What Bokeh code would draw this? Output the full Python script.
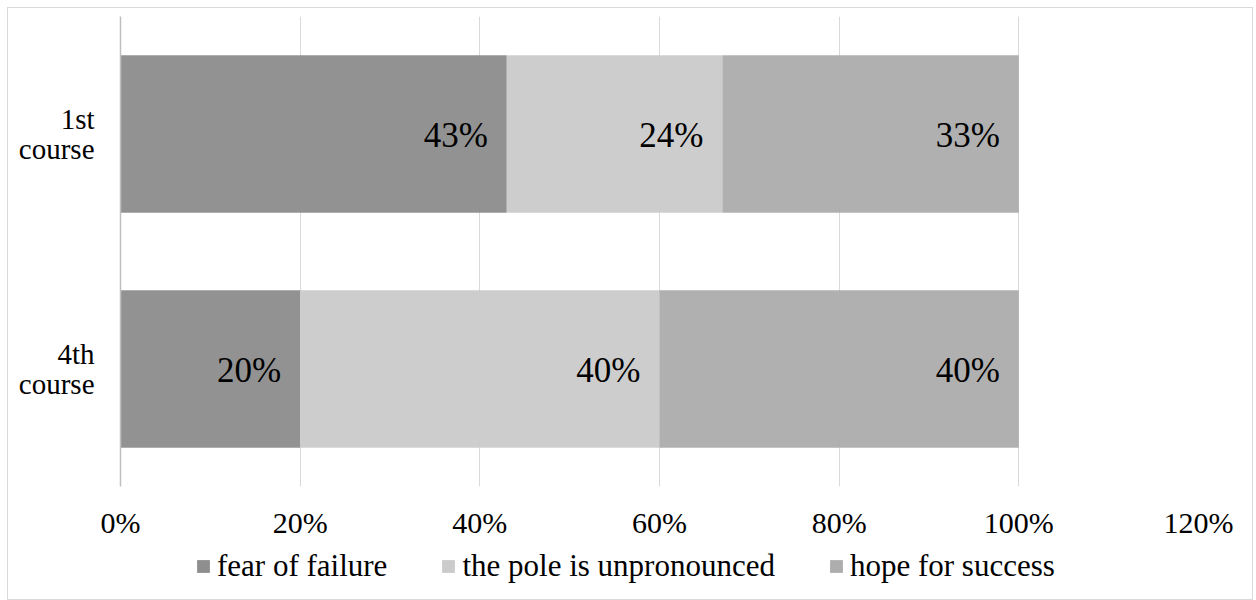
from bokeh.plotting import figure
from bokeh.layouts import column
from bokeh.models import (FactorRange, Range1d, Legend, LegendItem, PrintfTickFormatter,
                          FixedTicker, ColumnDataSource)
from bokeh.embed import file_html
from bokeh.resources import INLINE

# ---- data ----
courses = ["1st\ncourse", "4th\ncourse"]
fear = [43, 20]
pole = [24, 40]
hope = [33, 40]
series_names = ["fear of failure", "the pole is unpronounced", "hope for success"]
series_colors = ["#8e8e8e", "#cbcbcb", "#adadad"]
x_ticks = [0, 20, 40, 60, 80, 100, 120]

FONT = "Liberation Serif, Times New Roman, serif"

p = figure(width=1244, height=537, output_backend="svg", toolbar_location=None,
           y_range=FactorRange(factors=courses[::-1], range_padding=0),
           x_range=Range1d(0, 120),
           min_border_left=112, min_border_right=54, min_border_top=8, min_border_bottom=59)
p.outline_line_color = None
p.background_fill_color = "white"
p.border_fill_color = "white"

series = [fear, pole, hope]
left = [0, 0]
for name, vals, col in zip(series_names, series, series_colors):
    right = [l + v for l, v in zip(left, vals)]
    src = ColumnDataSource(dict(y=courses, left=left, right=right,
                                lab=[f"{v}%" for v in vals]))
    p.hbar(y="y", left="left", right="right", height=0.67, source=src,
           fill_color=col, line_color=None, fill_alpha=0.96)
    p.text(x="right", y="y", text="lab", source=src, x_offset=-19, y_offset=1,
           text_align="right", text_baseline="middle", text_font=FONT,
           text_font_size="35px", text_color="#000000")
    left = right

# grid
p.ygrid.grid_line_color = None
p.xgrid.grid_line_color = "#d9d9d9"
p.xgrid.grid_line_width = 1

# x axis
p.xaxis.ticker = FixedTicker(ticks=x_ticks)
p.xaxis.formatter = PrintfTickFormatter(format="%d%%")
p.xaxis.axis_line_color = None
p.xaxis.major_tick_line_color = None
p.xaxis.minor_tick_line_color = None
p.xaxis.major_label_text_font = FONT
p.xaxis.major_label_text_font_size = "30px"
p.xaxis.major_label_text_color = "#000000"
p.xaxis.major_label_standoff = 13

# y axis
p.yaxis.axis_line_color = "#bfbfbf"
p.yaxis.axis_line_width = 1.5
p.yaxis.major_tick_line_color = None
p.yaxis.minor_tick_line_color = None
p.yaxis.major_label_text_font = FONT
p.yaxis.major_label_text_font_size = "29px"
p.yaxis.major_label_text_color = "#000000"
p.yaxis.major_label_text_line_height = 0.95
p.yaxis.major_label_text_align = "center"
p.yaxis.major_label_standoff = 20

# legend strip (separate figure holding only the legend)
lf = figure(width=1244, height=54, output_backend="svg", toolbar_location=None,
            x_range=Range1d(0, 1), y_range=Range1d(0, 1),
            x_axis_type=None, y_axis_type=None,
            min_border_left=0, min_border_right=0, min_border_top=0, min_border_bottom=0)
lf.outline_line_color = None
lf.background_fill_color = "white"
lf.border_fill_color = "white"
leg_renderers = []
for col in series_colors:
    # key swatch only: placed outside the strip's visible range
    r = lf.hbar(y=[-10], left=[0], right=[1], height=0.5, fill_color=col, line_color=None)
    leg_renderers.append(r)
legend = Legend(items=[LegendItem(label=n, renderers=[r]) for n, r in zip(series_names, leg_renderers)],
                orientation="horizontal", location=(75, 15),
                glyph_width=16, glyph_height=16, label_standoff=6, spacing=53,
                padding=0, margin=0, border_line_color=None, background_fill_alpha=0,
                label_text_font=FONT, label_text_font_size="31px", label_text_color="#000000")
lf.add_layout(legend, "center")

page = column(p, lf, spacing=0,
              styles={"margin-left": "7px", "margin-top": "7px", "border": "1px solid #d9d9d9"})

open("out.html", "w").write(file_html(page, INLINE))
